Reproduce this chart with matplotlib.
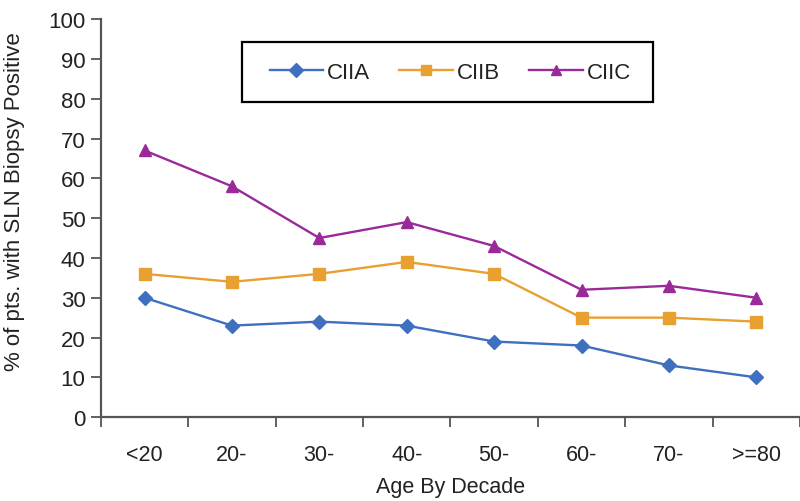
import matplotlib.pyplot as plt
from matplotlib.patches import Rectangle
from matplotlib.ticker import FixedLocator

plt.rcParams['font.family'] = ['Liberation Sans', 'DejaVu Sans']

ages = ['<20', '20-', '30-', '40-', '50-', '60-', '70-', '>=80']
ciia = [30, 23, 24, 23, 19, 18, 13, 10]
ciib = [36, 34, 36, 39, 36, 25, 25, 24]
ciic = [67, 58, 45, 49, 43, 32, 33, 30]

fig = plt.figure(figsize=(8, 5.02), dpi=100)
ax = fig.add_axes([0.126, 0.167, 0.874, 0.793])

x = list(range(len(ages)))
ax.plot(x, ciia, color='#3F6FBF', marker='D', markersize=7, lw=1.7, label='CIIA')
ax.plot(x, ciib, color='#E8A030', marker='s', markersize=8.5, lw=1.7, label='CIIB')
ax.plot(x, ciic, color='#9A2A9A', marker='^', markersize=8.5, lw=1.7, label='CIIC')

ax.set_xlim(-0.5, 7.5)
ax.set_ylim(0, 100)
ax.set_yticks(range(0, 101, 10))
ax.set_xticks(x)
ax.set_xticklabels(ages)
ax.xaxis.set_minor_locator(FixedLocator([i + 0.5 for i in range(-1, 8)]))
ax.tick_params(axis='x', which='major', length=0, pad=19, labelsize=15.5, labelcolor='#222222')
ax.tick_params(axis='x', which='minor', length=7, width=1.3, color='#555555')
ax.tick_params(axis='y', length=7, width=1.3, color='#555555', labelsize=16, pad=4,
               labelcolor='#222222')

for s in ['top', 'right']:
    ax.spines[s].set_visible(False)
for s in ['left', 'bottom']:
    ax.spines[s].set_color('#555555')
    ax.spines[s].set_linewidth(1.6)

ax.set_xlabel('Age By Decade', fontsize=15.5, labelpad=8, color='#222222')
ax.set_ylabel('% of pts. with SLN Biopsy Positive', fontsize=16, color='#222222')
ax.yaxis.set_label_coords(-0.109, 0.543)

# legend box drawn separately so its size matches
ax.add_patch(Rectangle((0.2017, 0.791), 0.5887, 0.151, transform=ax.transAxes,
                       fill=False, edgecolor='black', lw=1.6, zorder=5))
leg = ax.legend(loc='center', bbox_to_anchor=(0.5, 0.867), ncol=3, fontsize=16,
                frameon=False, handlelength=2.4, columnspacing=1.3,
                handletextpad=0.2, borderaxespad=0)
for t in leg.get_texts():
    t.set_color('#222222')
for h in leg.legend_handles:
    h.set_markersize(7)

fig.savefig('out.png', dpi=100)
